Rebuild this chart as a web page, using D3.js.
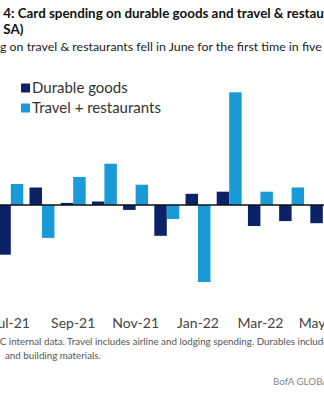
<!DOCTYPE html>
<html>
<head>
<meta charset="utf-8">
<script src="https://cdn.jsdelivr.net/npm/d3@7"></script>
<style>
  html, body { margin: 0; padding: 0; background: #fff; }
  svg { display: block; font-family: Lato, "Open Sans", sans-serif; }
</style>
</head>
<body>
<svg id="chart" width="324" height="393"></svg>
<script>
// ---- data (% change, SA) ----
const months = ["Jul-21","Aug-21","Sep-21","Oct-21","Nov-21","Dec-21","Jan-22","Feb-22","Mar-22","Apr-22","May-22"];
const durableGoods = [-7.1, 2.5, 0.3, 0.5, -0.7, -4.4, 1.6, 1.9, -3.0, -2.3, -2.6];
const travelRestaurants = [3.0, -4.7, 4.0, 5.9, 2.9, -2.0, -11.0, 16.1, 1.9, 2.5, null];
const tickLabels = ["Jul-21","Sep-21","Nov-21","Jan-22","Mar-22","May-22"];
const seriesNames = ["Durable goods", "Travel + restaurants"];
const seriesKeys = ["durable", "travel"];
const colors = ["#0b2266", "#1b9ad8"];

const titleFull = "Chart 4: Card spending on durable goods and travel & restaurants";
const titleLine2 = "(mom %, SA)";
const subtitle = "Spending on travel & restaurants fell in June for the first time in five months";
const note1 = "Source: BAC internal data. Travel includes airline and lodging spending. Durables include furniture";
const note2 = "and building materials.";
const brand = "BofA GLOBAL RESEARCH";

const svg = d3.select("#chart");
const W = 324;

// measure helper
function measure(str, size, weight) {
  const t = svg.append("text").attr("font-size", size).attr("font-weight", weight || "normal").text(str);
  const w = t.node().getComputedTextLength();
  t.remove();
  return w;
}
function fitSize(str, target, weight) {
  return 100 * target / measure(str, 100, weight);
}

// ---- scales ----
const step = 31.2;
const x = d3.scaleBand().domain(months)
  .range([10.8 - step / 2, 10.8 - step / 2 + step * months.length])
  .paddingInner(0.2).paddingOuter(0.1);
const x1 = d3.scaleBand().domain(seriesKeys).range([0, x.bandwidth()]).padding(0);
const y = d3.scaleLinear().domain([-12, 17]).range([205 + 12 * 7, 205 - 17 * 7]);

// ---- bars ----
const rows = months.map((m, i) => ({ m, durable: durableGoods[i], travel: travelRestaurants[i] }));
const g = svg.append("g");
seriesKeys.forEach((k, si) => {
  g.selectAll("rect." + k)
    .data(rows.filter(d => d[k] !== null))
    .join("rect")
    .attr("class", k)
    .attr("x", d => x(d.m) + x1(k))
    .attr("width", x1.bandwidth())
    .attr("y", d => y(Math.max(0, d[k])))
    .attr("height", d => Math.abs(y(d[k]) - y(0)))
    .attr("fill", colors[si]);
});

// zero line
svg.append("line")
  .attr("x1", 0).attr("x2", W)
  .attr("y1", y(0)).attr("y2", y(0))
  .attr("stroke", "#111").attr("stroke-width", 1.6);

// ---- x axis labels ----
const axis = d3.axisBottom(x).tickValues(tickLabels).tickSize(0).tickPadding(0);
const ax = svg.append("g").attr("transform", "translate(0,318)").call(axis);
ax.select(".domain").remove();
ax.selectAll("text")
  .attr("font-size", 14)
  .attr("font-family", "Lato, sans-serif")
  .attr("fill", "#444");

// ---- titles ----
{
  const visible = "4: Card spending on durable goods and travel & restaur";
  const fs = fitSize(visible, 326, "bold");
  const pre = measure("Chart ", fs, "bold");
  svg.append("text").attr("x", -pre).attr("y", 18)
    .attr("font-size", fs).attr("font-weight", "bold").attr("fill", "#111")
    .text(titleFull);
  const pre2 = measure("(mom %,", fs, "bold");
  svg.append("text").attr("x", -pre2).attr("y", 34)
    .attr("font-size", fs).attr("font-weight", "bold").attr("fill", "#111")
    .text(titleLine2);
}
{
  const visible = "g on travel & restaurants fell in June for the first time in five";
  const fs = fitSize(visible, 322);
  const pre = measure("Spendin", fs);
  svg.append("text").attr("x", -pre).attr("y", 51)
    .attr("font-size", fs).attr("fill", "#222")
    .text(subtitle);
}

// ---- legend ----
const leg = svg.append("g");
seriesNames.forEach((name, i) => {
  const yy = 88 + i * 20;
  leg.append("rect").attr("x", 21).attr("y", yy - 4.5).attr("width", 9).attr("height", 9).attr("fill", colors[i]);
  leg.append("text").attr("x", 32).attr("y", yy + 5)
    .attr("font-size", 15).attr("fill", "#333").text(name);
});

// ---- footnotes ----
{
  const visible = "C internal data. Travel includes airline and lodging spending. Durables includ";
  const fs = fitSize(visible, 324);
  const pre = measure("Source: BA", fs);
  svg.append("text").attr("x", -pre).attr("y", 345)
    .attr("font-size", fs).attr("fill", "#555").text(note1);
  svg.append("text").attr("x", 5).attr("y", 359)
    .attr("font-size", fs).attr("fill", "#555").text(note2);
  svg.append("text").attr("x", 273).attr("y", 385)
    .attr("font-size", fs).attr("fill", "#888").text(brand);
}
</script>
</body>
</html>
